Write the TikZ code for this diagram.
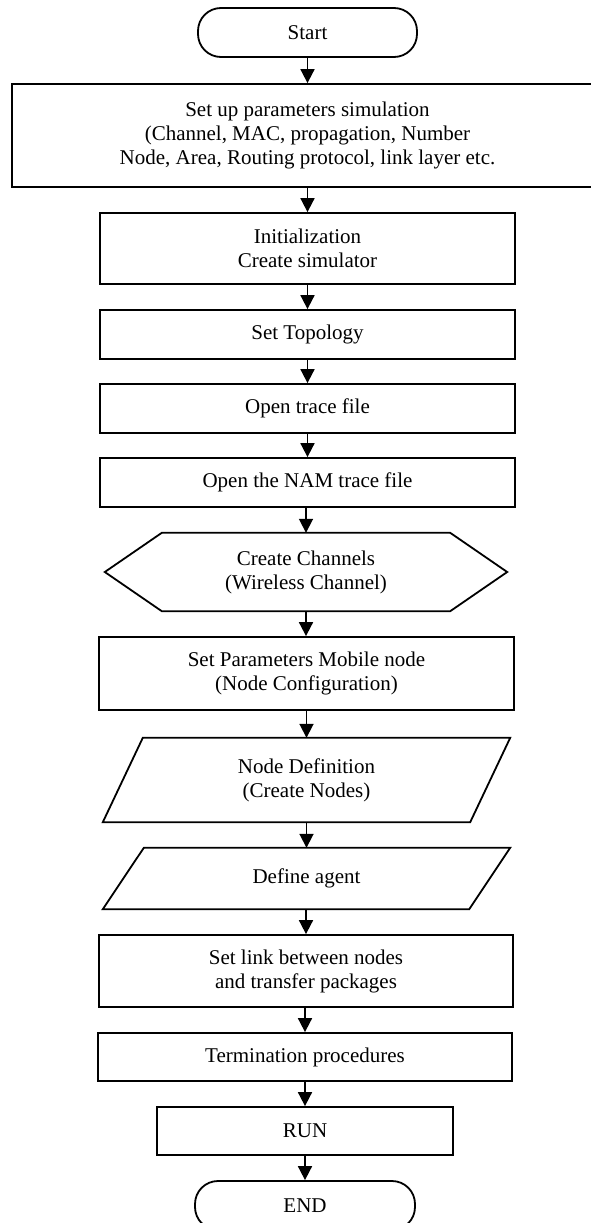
\documentclass[tikz,border=0pt]{standalone}
\usepackage{fontspec}
\setmainfont{Liberation Serif}
\usetikzlibrary{arrows.meta,calc}

% outline of a slanted input box round an invisible node
\newcommand{\slantbox}[2]{%
  \draw[outline] (#1.south west) -- ($(#1.north west)+(#2,0)$) -- (#1.north east)
    -- ($(#1.south east)-(#2,0)$) -- cycle;}
% outline of a hexagon round an invisible node
\newcommand{\hexbox}[2]{%
  \draw[outline] (#1.west) -- ($(#1.north west)+(#2,0)$) -- ($(#1.north east)-(#2,0)$)
    -- (#1.east) -- ($(#1.south east)-(#2,0)$) -- ($(#1.south west)+(#2,0)$) -- cycle;}

\begin{document}
\begin{tikzpicture}[x=1pt,y=1pt,
    font=\fontsize{21}{24}\selectfont,
    outline/.style ={line width=1.8pt, line join=miter},
    process/.style ={rectangle, draw, line width=1.8pt, align=center, inner sep=0pt},
    terminal/.style ={process, rounded corners=23pt},
    shapebox/.style ={rectangle, align=center, inner sep=0pt},
    flow/.style ={line width=1.8pt, -{Triangle[length=14pt,width=14pt]}}]
   \useasboundingbox (0,0) rectangle (591,-1223);

   \node[terminal, minimum width=219, minimum height=49] (start) at (307.5,-32.5) {Start};
   \node[process, minimum width=591, minimum height=103] (setup) at (307.5,-135.5)
     {Set up parameters simulation\\(Channel, MAC, propagation, Number\\Node, Area, Routing protocol, link layer etc.};
   \node[process, minimum width=415, minimum height=71] (init) at (307.5,-248.5)
     {Initialization\\Create simulator};
   \node[process, minimum width=415, minimum height=49] (topo) at (307.5,-334.5) {Set Topology};
   \node[process, minimum width=415, minimum height=49] (trace) at (307.5,-408.5) {Open trace file};
   \node[process, minimum width=415, minimum height=49] (nam) at (307.5,-482.5) {Open the NAM trace file};
   \node[shapebox, minimum width=402, minimum height=78] (chan) at (306,-572)
     {Create Channels\\(Wireless Channel)};
   \node[process, minimum width=415, minimum height=73] (mobile) at (306.5,-673.5)
     {Set Parameters Mobile node\\(Node Configuration)};
   \node[shapebox, minimum width=407, minimum height=84] (nodedef) at (306.5,-780)
     {Node Definition\\(Create Nodes)};
   \node[shapebox, minimum width=407, minimum height=61] (agent) at (306.5,-878.5) {Define agent};
   \node[process, minimum width=414, minimum height=72] (link) at (306,-971)
     {Set link between nodes\\and transfer packages};
   \node[process, minimum width=414, minimum height=48] (term) at (305,-1057) {Termination procedures};
   \node[process, minimum width=296, minimum height=48] (run) at (305,-1131) {RUN};
   \node[terminal, minimum width=220, minimum height=49] (end) at (305,-1205.5) {END};

   \hexbox{chan}{57}
   \slantbox{nodedef}{40}
   \slantbox{agent}{41}

   \draw[flow] (start) -- (setup);
   \draw[flow] (setup.south -| init.north) -- (init);
   \draw[flow] (init) -- (topo);
   \draw[flow] (topo) -- (trace);
   \draw[flow] (trace) -- (nam);
   \draw[flow] (nam.south -| chan.north) -- (chan);
   \draw[flow] (chan) -- (chan |- mobile.north);
   \draw[flow] (mobile) -- (nodedef);
   \draw[flow] (nodedef) -- (agent);
   \draw[flow] (agent.south -| link.north) -- (link);
   \draw[flow] (link.south -| term.north) -- (term);
   \draw[flow] (term) -- (run);
   \draw[flow] (run) -- (end);
\end{tikzpicture}
\end{document}
